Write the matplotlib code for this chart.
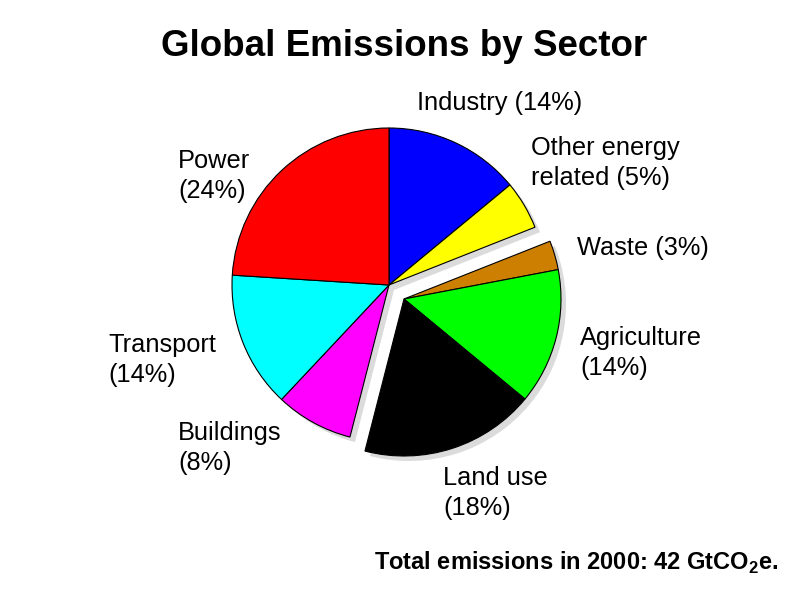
import matplotlib
matplotlib.use("Agg")
import matplotlib.pyplot as plt

plt.rcParams['font.family'] = ['Liberation Sans', 'DejaVu Sans']
plt.rcParams['mathtext.fontset'] = 'custom'
plt.rcParams['mathtext.bf'] = 'Liberation Sans:bold'
plt.rcParams['mathtext.rm'] = 'Liberation Sans'

# data, clockwise from 12 o'clock
sectors = ['Industry', 'Other energy\nrelated', 'Waste', 'Agriculture',
           'Land use', 'Buildings', 'Transport', 'Power']
shares = [14, 5, 3, 14, 18, 8, 14, 24]
colors = ['#0000FF', '#FFFF00', '#CC7F00', '#00FF00',
          '#000000', '#FF00FF', '#00FFFF', '#FF0000']
pulled_out = ['Waste', 'Agriculture', 'Land use']

# layout in pixels (y from top)
center = (389, 285)
radius = 157
shift = (15, 14)
shadow_off = (5, 5)
label_pos = {
    'Industry': (417, 103),
    'Other energy\nrelated': (531, 163),
    'Waste': (577, 248),
    'Agriculture': (580, 353),
    'Land use': (443, 493),
    'Buildings': (178, 448),
    'Transport': (108, 360),
    'Power': (178, 176),
}
seps = [' ', ' ', ' ', '\n', '\n', '\n', '\n', '\n']

fig = plt.figure(figsize=(8, 6), dpi=100)
ax = fig.add_axes([0, 0, 1, 1])

# drop shadow: a gray copy of the pie, a bit down and right
shadows, _ = ax.pie(shares, colors=['0.6'] * len(shares), startangle=90,
                    counterclock=False, radius=radius,
                    center=(center[0] + shadow_off[0], 600 - center[1] - shadow_off[1]),
                    wedgeprops=dict(linewidth=0, alpha=0.35))
wedges, _ = ax.pie(shares, colors=colors, startangle=90, counterclock=False,
                   radius=radius, center=(center[0], 600 - center[1]),
                   wedgeprops=dict(edgecolor='black', linewidth=0.8))

for s, w, name in zip(shadows, wedges, sectors):
    s.set_zorder(0)
    w.set_zorder(2)
    if name in pulled_out:
        w.set_center((center[0] + shift[0], 600 - center[1] - shift[1]))
        s.set_center((center[0] + shift[0] + shadow_off[0],
                      600 - center[1] - shift[1] - shadow_off[1]))

ax.set_xlim(0, 800)
ax.set_ylim(0, 600)
ax.set_aspect('equal')
ax.axis('off')

for name, val, sep in zip(sectors, shares, seps):
    x, y = label_pos[name]
    ax.text(x, 600 - y, '%s%s(%d%%)' % (name, sep, val), fontsize=18.3,
            ha='left', va='center', linespacing=1.32)

ax.text(404, 600 - 47, 'Global Emissions by Sector', fontsize=26.5,
        fontweight='bold', ha='center', va='center')
ax.text(374, 600 - 563, r'Total emissions in 2000: 42 GtCO$_\mathbf{2}$e.',
        fontsize=17, fontweight='bold', ha='left', va='center')

fig.savefig('out.png', dpi=100)
